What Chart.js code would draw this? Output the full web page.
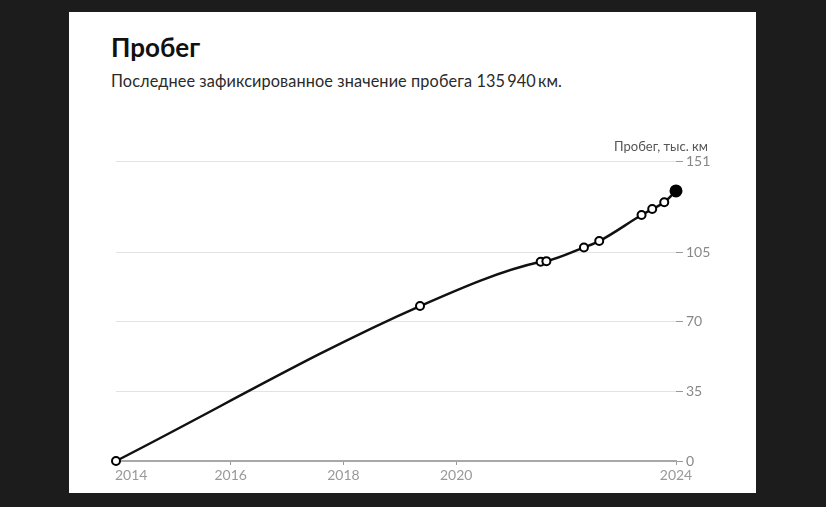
<!DOCTYPE html>
<html>
<head>
<meta charset="utf-8">
<script src="https://cdn.jsdelivr.net/npm/chart.js@4.4.1/dist/chart.umd.min.js"></script>
<style>
  html, body { margin: 0; padding: 0; background: #1c1c1c; width: 826px; height: 507px; overflow: hidden; }
  #card { position: absolute; left: 69px; top: 12px; width: 687px; height: 481px; background: #ffffff; }
  .t { position: absolute; font-family: Lato, "Noto Sans", sans-serif; white-space: nowrap; line-height: 1; }
  #title { left: 111px; top: 34px; font-size: 26px; font-weight: 700; color: #111; }
  #sub { left: 111px; top: 73px; font-size: 16.3px; color: #2a2a2a; letter-spacing: 0.1px; }
  #wrap { position: absolute; left: 0; top: 0; width: 826px; height: 507px; }
</style>
</head>
<body>
<div id="card"></div>
<div class="t" id="title">Пробег</div>
<div class="t" id="sub">Последнее зафиксированное значение пробега 135&#8201;940&#8201;км.</div>
<div id="wrap"><canvas id="c" width="826" height="507"></canvas></div>
<script>
// ---- data ----
const readingDates = ['2013-12-20', '2019-05-12', '2021-07-02', '2021-08-08', '2022-04-08', '2022-07-16', '2023-04-16', '2023-06-24', '2023-09-10', '2023-11-25'];
const mileage = [0, 78.0, 100.3, 100.6, 107.5, 110.7, 123.8, 126.8, 130.2, 135.94];
const xTickLabels = ['2014', '2016', '2018', '2020', '2024'];
const xTickYears = [null, 2016, 2018, 2020, null]; // ends follow first/last reading
const yTickValues = [0, 35, 70, 105, 151];
const yAxisTitle = 'Пробег, тыс. км';

function toYear(s) {
  const d = new Date(s + 'T00:00:00Z');
  const y = d.getUTCFullYear();
  const start = Date.UTC(y, 0, 1), end = Date.UTC(y + 1, 0, 1);
  return y + (d.getTime() - start) / (end - start);
}
const xs = readingDates.map(toYear);
const xMin = xs[0], xMax = xs[xs.length - 1];
const xTickValues = xTickYears.map((v, i) => v === null ? (i === 0 ? xMin : xMax) : v);
const points = xs.map((x, i) => ({ x: x, y: mileage[i] }));
const last = points.length - 1;

const FONT = 'Lato, "Noto Sans", sans-serif';

const labelsPlugin = {
  id: 'labels',
  afterDraw(chart) {
    const ctx = chart.ctx;
    const xs = chart.scales.x, ca = chart.chartArea;
    ctx.save();
    ctx.font = '14px ' + FONT;
    ctx.fillStyle = '#999';
    ctx.textBaseline = 'middle';
    xTickValues.forEach((v, i) => {
      const px = xs.getPixelForValue(v);
      ctx.textAlign = i === 0 ? 'left' : 'center';
      ctx.fillText(xTickLabels[i], i === 0 ? px - 1 : px, ca.bottom + 14);
    });
    ctx.font = '13px ' + FONT;
    ctx.fillStyle = '#555';
    ctx.textAlign = 'right';
    ctx.fillText(yAxisTitle, ca.right + 32, ca.top - 14);
    ctx.restore();
  }
};

new Chart(document.getElementById('c'), {
  type: 'line',
  data: {
    datasets: [{
      data: points,
      borderColor: '#111',
      borderWidth: 2.5,
      cubicInterpolationMode: 'monotone',
      pointRadius: points.map((p, i) => i === last ? 5.5 : 4),
      pointBackgroundColor: points.map((p, i) => i === last ? '#000' : '#fff'),
      pointBorderColor: '#000',
      pointBorderWidth: 2,
      clip: false
    }]
  },
  options: {
    responsive: false,
    animation: false,
    events: [],
    layout: { padding: { left: 116, top: 161, right: 90, bottom: 16 } },
    plugins: { legend: { display: false }, tooltip: { enabled: false } },
    scales: {
      x: {
        type: 'linear',
        min: xMin,
        max: xMax,
        afterBuildTicks: s => { s.ticks = xTickValues.map(v => ({ value: v })); },
        afterFit: s => { s.height = 30; },
        ticks: { display: false },
        grid: { drawOnChartArea: false, drawTicks: true, tickLength: 4, tickColor: '#999', lineWidth: 1 },
        border: { display: true, color: '#a8a8a8', width: 2 }
      },
      y: {
        position: 'right',
        min: 0,
        max: 151,
        afterBuildTicks: s => { s.ticks = yTickValues.map(v => ({ value: v })); },
        afterFit: s => { s.width = 60; },
        ticks: { color: '#888', font: { family: FONT, size: 14 }, padding: 3 },
        grid: { color: '#e3e3e3', lineWidth: 1, tickLength: 7, tickColor: '#999' },
        border: { display: false }
      }
    }
  },
  plugins: [labelsPlugin]
});
</script>
</body>
</html>
